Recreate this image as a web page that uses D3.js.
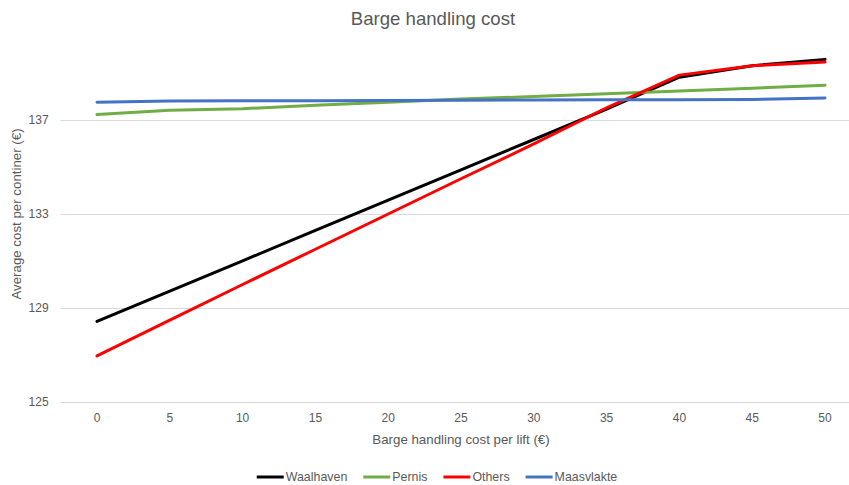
<!DOCTYPE html>
<html>
<head>
<meta charset="utf-8">
<script src="https://cdn.jsdelivr.net/npm/d3@7"></script>
<style>
  html, body { margin: 0; padding: 0; background: #fff; }
  svg { display: block; font-family: "Liberation Sans", Arial, sans-serif; }
</style>
</head>
<body>
<svg id="chart" width="849" height="485"></svg>
<script>
// Barge handling cost per lift (€)
const categories = ["0", "5", "10", "15", "20", "25", "30", "35", "40", "45", "50"];

// Average cost per container (€) for each terminal group
const waalhaven  = [128.43, 129.72, 131.01, 132.30, 133.59, 134.88, 136.17, 137.46, 138.82, 139.31, 139.58];
const pernis     = [137.23, 137.42, 137.48, 137.63, 137.76, 137.89, 138.00, 138.12, 138.23, 138.35, 138.48];
const others     = [126.96, 128.48, 130.00, 131.50, 133.00, 134.50, 135.98, 137.52, 138.91, 139.31, 139.47];
const maasvlakte = [137.76, 137.81, 137.82, 137.82, 137.83, 137.84, 137.85, 137.86, 137.86, 137.87, 137.94];

const yTicks = [125, 129, 133, 137];

const seriesNames  = ["Waalhaven", "Pernis", "Others", "Maasvlakte"];
const seriesValues = [waalhaven, pernis, others, maasvlakte];
const seriesColors = ["#000000", "#70AD47", "#FF0000", "#4472C4"];

const svg = d3.select("#chart");
const textColor = "#595959";

const plot = { left: 60.6, right: 861.4, top: 26, bottom: 402 };
const chartCenter = 433;

const x = d3.scaleBand().domain(categories).range([plot.left, plot.right]).padding(0);
const xc = c => x(c) + x.bandwidth() / 2;
const y = d3.scaleLinear().domain([125, 141]).range([plot.bottom, plot.top]);

// Title
svg.append("text")
  .attr("x", chartCenter).attr("y", 25)
  .attr("text-anchor", "middle")
  .attr("font-size", 18.6)
  .attr("fill", textColor)
  .text("Barge handling cost");

// Horizontal gridlines
svg.append("g")
  .selectAll("line")
  .data(yTicks)
  .join("line")
  .attr("x1", plot.left).attr("x2", plot.right)
  .attr("y1", d => Math.round(y(d)) + 0.5).attr("y2", d => Math.round(y(d)) + 0.5)
  .attr("stroke", "#d9d9d9").attr("stroke-width", 1);

// Y axis (labels only)
const yAxis = svg.append("g")
  .attr("transform", `translate(${plot.left},0)`)
  .call(d3.axisLeft(y).tickValues(yTicks).tickSize(0).tickPadding(12).tickFormat(d3.format("d")));
yAxis.select(".domain").remove();
yAxis.selectAll("text").attr("font-size", 12).attr("fill", textColor).attr("font-family", null);

// X axis (labels only)
const xAxis = svg.append("g")
  .attr("transform", `translate(0,${plot.bottom})`)
  .call(d3.axisBottom(x).tickSize(0).tickPadding(11));
xAxis.select(".domain").remove();
xAxis.selectAll("text").attr("font-size", 12).attr("fill", textColor).attr("font-family", null);

// Axis titles
svg.append("text")
  .attr("x", (plot.left + plot.right) / 2).attr("y", 444)
  .attr("text-anchor", "middle")
  .attr("font-size", 13.3)
  .attr("fill", textColor)
  .text("Barge handling cost per lift (€)");

svg.append("text")
  .attr("transform", `translate(21,${(plot.top + plot.bottom) / 2}) rotate(-90)`)
  .attr("text-anchor", "middle")
  .attr("font-size", 13.3)
  .attr("fill", textColor)
  .text("Average cost per continer (€)");

// Series lines
const line = d3.line().x((d, i) => xc(categories[i])).y(d => y(d));
svg.append("g")
  .selectAll("path")
  .data(seriesValues)
  .join("path")
  .attr("d", d => line(d))
  .attr("fill", "none")
  .attr("stroke", (d, i) => seriesColors[i])
  .attr("stroke-width", 3)
  .attr("stroke-linejoin", "round")
  .attr("stroke-linecap", "round");

// Legend
const legend = svg.append("g");
const sampleLen = 27, sampleGap = 2, itemGap = 16, legendY = 477;
let cursor = 0;
seriesNames.forEach((name, i) => {
  const g = legend.append("g");
  g.append("line")
    .attr("x1", 0).attr("x2", sampleLen)
    .attr("y1", 0).attr("y2", 0)
    .attr("stroke", seriesColors[i]).attr("stroke-width", 3);
  const t = g.append("text")
    .attr("x", sampleLen + sampleGap).attr("y", 0)
    .attr("dy", "0.35em")
    .attr("font-size", 12.4)
    .attr("fill", textColor)
    .text(name);
  const w = sampleLen + sampleGap + t.node().getComputedTextLength();
  g.attr("transform", `translate(${cursor},${legendY})`);
  cursor += w + itemGap;
});
const legendWidth = cursor - itemGap;
legend.attr("transform", `translate(${437 - legendWidth / 2},0)`);
</script>
</body>
</html>
